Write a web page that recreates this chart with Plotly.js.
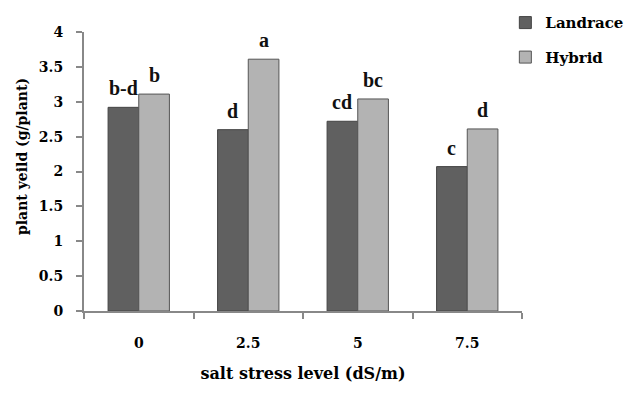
<!DOCTYPE html>
<html>
<head>
<meta charset="utf-8">
<script src="https://cdn.plot.ly/plotly-3.0.1.min.js"></script>
<style>html,body{margin:0;padding:0;background:#fff;}#chart{width:628px;height:396px;}</style>
</head>
<body>
<div id="chart"></div>
<script>
const categories = ["0", "2.5", "5", "7.5"];
const landrace = [2.92, 2.60, 2.72, 2.07];
const hybrid = [3.11, 3.61, 3.04, 2.61];
const landraceLetters = ["b-d", "d", "cd", "c"];
const hybridLetters = ["b", "a", "bc", "d"];

const serif = "DejaVu Serif, serif";
const times = "Liberation Serif, Times New Roman, serif";
const lineCol = "#444444";

const traces = [
  {type: "bar", name: "Landrace", x: categories, y: landrace, legendgroup: "g1",
   marker: {color: "#606060", line: {color: lineCol, width: 1}}, hoverinfo: "skip"},
  {type: "bar", name: "Hybrid", x: categories, y: hybrid, legendgroup: "g2",
   marker: {color: "#b3b3b3", line: {color: "#555555", width: 1}}, hoverinfo: "skip"}
];

const annotations = [];
categories.forEach((c, i) => {
  annotations.push({x: i, y: landrace[i], text: landraceLetters[i], xref: "x", yref: "y",
    showarrow: false, xshift: -15.5, yshift: 19, yanchor: "middle",
    font: {family: times, size: 20, color: "#111", weight: "bold"}});
  annotations.push({x: i, y: hybrid[i], text: hybridLetters[i], xref: "x", yref: "y",
    showarrow: false, xshift: 15.5, yshift: 19, yanchor: "middle",
    font: {family: times, size: 20, color: "#111", weight: "bold"}});
});
annotations.push({text: "plant yeild (g/plant)", xref: "paper", yref: "paper",
  x: 0, xshift: -62, y: 0.552, textangle: -90, showarrow: false,
  xanchor: "center", yanchor: "middle",
  font: {family: serif, size: 14, color: "#000", weight: "bold"}});

const layout = {
  width: 628, height: 396,
  margin: {l: 84, r: 106, t: 32, b: 85, autoexpand: false},
  paper_bgcolor: "#ffffff", plot_bgcolor: "#ffffff",
  barmode: "group", bargap: 0.44, bargroupgap: 0,
  showlegend: true,
  legend: {x: 0.962, xanchor: "left", y: 1.092, yanchor: "top",
    traceorder: "grouped", tracegroupgap: 12,
    font: {family: serif, size: 15, color: "#000", weight: "bold"},
    bgcolor: "rgba(0,0,0,0)"},
  xaxis: {
    type: "category", range: [-0.5, 3.5],
    showline: true, linecolor: "#888888", linewidth: 2,
    ticks: "outside", tickson: "boundaries", ticklen: 6, tickcolor: "#888888", tickwidth: 2,
    ticklabelstandoff: 18,
    tickfont: {family: serif, size: 14, color: "#000", weight: "bold"},
    showgrid: false, zeroline: false,
    title: {text: "salt stress level (dS/m)", standoff: 18,
      font: {family: serif, size: 16, color: "#000", weight: "bold"}}
  },
  yaxis: {
    range: [0, 4], dtick: 0.5,
    showline: true, linecolor: "#888888", linewidth: 2,
    ticks: "outside", ticklen: 6, tickcolor: "#888888", tickwidth: 2,
    ticklabelstandoff: 10,
    tickfont: {family: serif, size: 14, color: "#000", weight: "bold"},
    showgrid: false, zeroline: false
  },
  annotations: annotations
};

Plotly.newPlot("chart", traces, layout, {staticPlot: true, displayModeBar: false});
</script>
</body>
</html>
